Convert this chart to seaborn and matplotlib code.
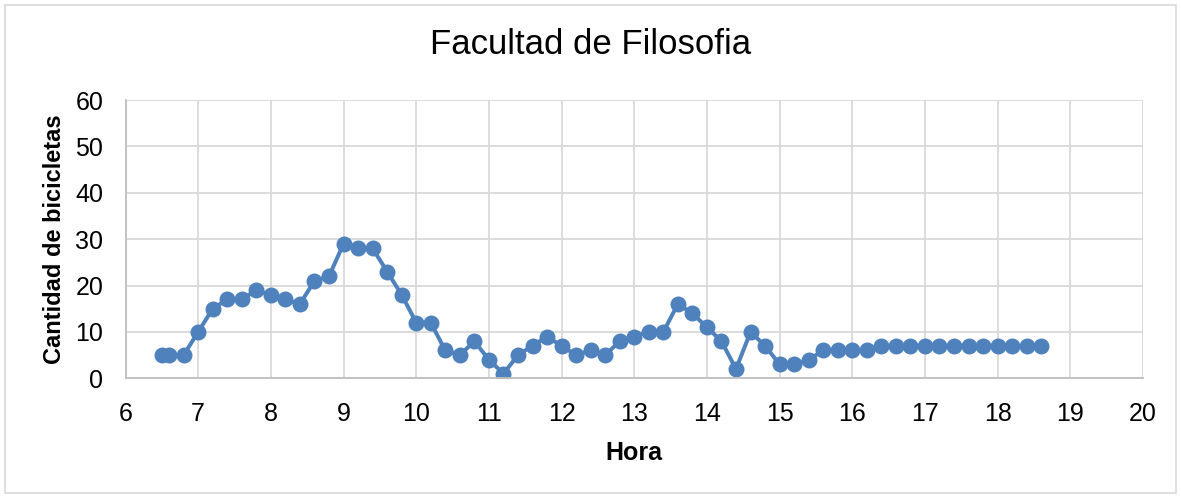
import matplotlib
matplotlib.use("Agg")
import matplotlib.pyplot as plt
from matplotlib.patches import Rectangle
import seaborn as sns
import pandas as pd

# Bicycle counts recorded through the day
horas = [6.5, 6.6, 6.8, 7.0, 7.2, 7.4, 7.6, 7.8, 8.0, 8.2, 8.4, 8.6, 8.8,
         9.0, 9.2, 9.4, 9.6, 9.8, 10.0, 10.2, 10.4, 10.6, 10.8, 11.0, 11.2,
         11.4, 11.6, 11.8, 12.0, 12.2, 12.4, 12.6, 12.8, 13.0, 13.2, 13.4,
         13.6, 13.8, 14.0, 14.2, 14.4, 14.6, 14.8, 15.0, 15.2, 15.4, 15.6,
         15.8, 16.0, 16.2, 16.4, 16.6, 16.8, 17.0, 17.2, 17.4, 17.6, 17.8,
         18.0, 18.2, 18.4, 18.6]
bicicletas = [5, 5, 5, 10, 15, 17, 17, 19, 18, 17, 16, 21, 22,
              29, 28, 28, 23, 18, 12, 12, 6, 5, 8, 4, 1,
              5, 7, 9, 7, 5, 6, 5, 8, 9, 10, 10,
              16, 14, 11, 8, 2, 10, 7, 3, 3, 4, 6,
              6, 6, 6, 7, 7, 7, 7, 7, 7, 7, 7,
              7, 7, 7, 7]
x_ticks = list(range(6, 21))
y_ticks = list(range(0, 61, 10))

titulo = "Facultad de Filosofia"
etiqueta_x = "Hora"
etiqueta_y = "Cantidad de bicicletas"

df = pd.DataFrame({"Hora": horas, "Bicicletas": bicicletas})

sns.set_theme(style="white")
plt.rcParams["font.family"] = ["Liberation Sans Narrow", "Liberation Sans", "DejaVu Sans"]

W, H = 1181, 497
fig = plt.figure(figsize=(W / 100, H / 100), dpi=100)
ax = fig.add_axes([125.5 / W, 1 - 378.3 / H, (1143 - 125.5) / W, (378.3 - 100) / H])

sns.lineplot(data=df, x="Hora", y="Bicicletas", ax=ax, color="#4f81bd",
             linewidth=2.9, marker="o", markersize=11.5,
             markeredgewidth=0, markerfacecolor="#4f81bd")

ax.set_xlim(6, 20)
ax.set_ylim(0, 60)
ax.set_xticks(x_ticks)
ax.set_yticks(y_ticks)
ax.set_xticklabels([str(t) for t in x_ticks])
ax.set_yticklabels([str(t) for t in y_ticks])
ax.tick_params(axis="both", length=0, labelsize=18, colors="#000000")
ax.tick_params(axis="x", pad=17)
ax.tick_params(axis="y", pad=16)

ax.grid(True, color="#d9d9d9", linewidth=1.3)
ax.set_axisbelow(True)
for side in ["top", "right"]:
    ax.spines[side].set_visible(False)
for side in ["left", "bottom"]:
    ax.spines[side].set_color("#bfbfbf")
    ax.spines[side].set_linewidth(1.3)

ax.set_xlabel(etiqueta_x, fontsize=18, fontweight="bold", color="#000000")
ax.set_ylabel(etiqueta_y, fontsize=17, fontweight="bold", color="#000000")
ax.xaxis.set_label_coords(0.5, -0.225)
ax.yaxis.set_label_coords(-0.058, 0.5)

fig.text(0.5, 1 - 45 / H, titulo, ha="center", va="center", fontsize=25,
         family=["Liberation Sans", "DejaVu Sans"], color="#000000")

# light frame around the whole chart
fig.patches.append(Rectangle((5 / W, 4 / H), (W - 10) / W, (H - 9) / H,
                             transform=fig.transFigure, fill=False,
                             edgecolor="#d9d9d9", linewidth=1.2))

fig.savefig("out.png", dpi=100, facecolor="white")
